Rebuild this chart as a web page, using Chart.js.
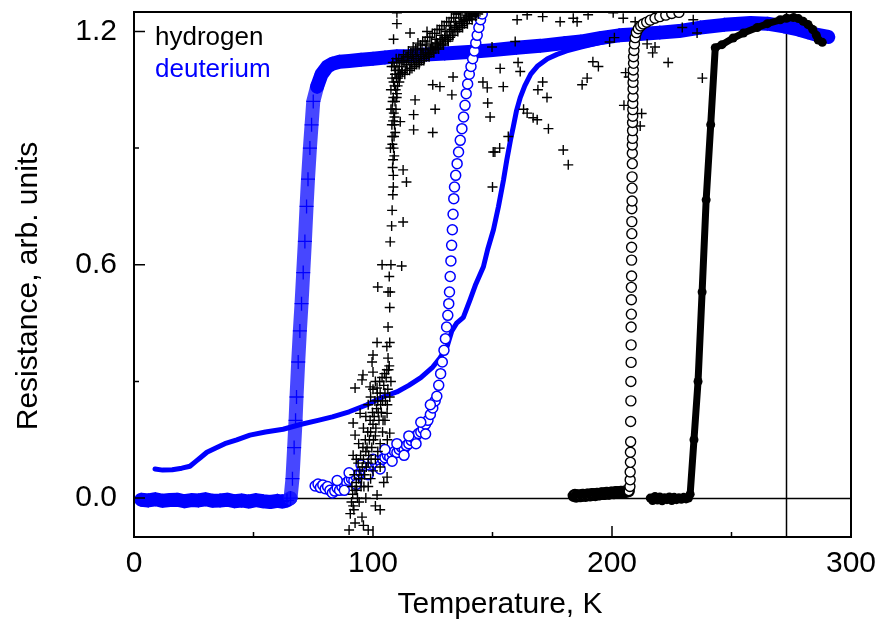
<!DOCTYPE html>
<html>
<head>
<meta charset="utf-8">
<title>Resistance vs temperature</title>
<script src="https://cdn.jsdelivr.net/npm/chart.js@4"></script>
<style>
  html, body { margin: 0; padding: 0; background: #fff; }
  canvas { display: block; }
</style>
</head>
<body>
<canvas id="chart" width="880" height="621"></canvas>
<script>
// axis ranges and ticks
const xRange = [0, 300];
const yRange = [-0.1, 1.25];
const xTicks = [0, 100, 200, 300];
const xMinor = [50, 150, 250];
const yTicks = [0, 0.6, 1.2];
const yMinor = [0.3, 0.9];
const zeroLine = [0];
const markerT = [273];

const legendLabels = ['hydrogen', 'deuterium'];
const legendColors = ['#000000', '#0000ff'];

// deuterium, crosses (thick band), [T, R]
const dCross = [
  [3,-0.004],[6,-0.006],[9,-0.003],[12,-0.007],[15,-0.005],[18,-0.004],[21,-0.008],[24,-0.005],
  [27,-0.006],[30,-0.003],[33,-0.007],[36,-0.006],[39,-0.004],[42,-0.008],[45,-0.006],[48,-0.009],
  [51,-0.005],[54,-0.008],[57,-0.01],[60,-0.007],[62,-0.009],[64,-0.006],[65.5,0.0],[66.3,0.05],
  [67,0.13],[67.6,0.2],[68,0.26],[68.7,0.35],[69.4,0.43],[70.1,0.5],[70.8,0.58],[71.5,0.66],
  [72.2,0.75],[72.8,0.82],[73.6,0.9],[74.3,0.96],[75,1.02],[76.6,1.058],[78.5,1.09],[80.8,1.109],
  [83,1.117],[86,1.122],[90,1.124],[95,1.127],[100,1.13],[105,1.133],[110,1.136],[115,1.137],
  [120,1.14],[130,1.143],[140,1.147],[150,1.152],[160,1.158],[170,1.163],[180,1.17],[187,1.174],
  [195,1.183],[203,1.19],[210,1.193],[220,1.197],[228,1.201],[237,1.21],[247,1.217],[258,1.222],
  [265,1.22],[272,1.213],[278,1.205],[282,1.198],[286,1.191],[290.5,1.186]
];

// deuterium, thin dense line
const dLine = [
  [8.8,0.075],[12,0.072],[16,0.073],[20,0.077],[23.4,0.082],[26,0.095],[28,0.105],[30.5,0.118],
  [34,0.128],[38,0.14],[43,0.15],[48.5,0.162],[55,0.17],[62.4,0.177],[70,0.19],[77,0.2],
  [83,0.209],[90,0.222],[97.5,0.24],[104,0.26],[110,0.273],[115,0.29],[120,0.31],[125,0.337],
  [128,0.36],[131,0.39],[133,0.43],[135,0.45],[137.8,0.465],[140.6,0.51],[143,0.55],[146.2,0.595],
  [148,0.64],[150.4,0.69],[152.5,0.75],[154.6,0.818],[156,0.87],[157.5,0.92],[158.7,0.955],[160,0.995],
  [161.6,1.03],[163.5,1.06],[166,1.09],[169,1.112],[173,1.13],[177,1.141],[181,1.15],[187,1.16],
  [194,1.17],[200,1.178],[208,1.19]
];

// deuterium, open circles
const dCircle = [
  [75.8,0.031],[77,0.036],[78,0.027],[79,0.034],[80,0.024],[81,0.03],[82,0.02],[83,0.013],
  [84,0.018],[85,0.026],[86,0.02],[87,0.03],[88,0.036],[89,0.04],[90,0.046],[91,0.05],
  [92,0.045],[93,0.055],[94,0.062],[95,0.066],[96,0.072],[97,0.068],[98,0.076],[99,0.082],
  [100,0.086],[101,0.09],[102,0.087],[103,0.095],[104,0.1],[105,0.104],[106,0.11],[107,0.106],
  [108,0.115],[109,0.12],[110,0.117],[111,0.125],[112,0.13],[113,0.127],[114,0.135],[115,0.14],
  [116,0.148],[117,0.155],[118,0.16],[119,0.166],[120,0.17],[121,0.178],[122,0.19],[123,0.2],
  [124,0.215],[125,0.232],[126,0.25],[126.7,0.262],[127.5,0.29],[128.3,0.32],[129,0.35],[129.7,0.38],
  [130.3,0.41],[130.8,0.44],[131.3,0.47],[131.7,0.5],[132,0.53],[132.3,0.57],[132.6,0.61],[132.9,0.65],
  [133.2,0.69],[133.5,0.73],[133.8,0.77],[134.1,0.8],[134.6,0.83],[135.2,0.86],[135.8,0.89],[136.5,0.92],
  [137.2,0.95],[137.9,0.98],[138.5,1.01],[139,1.04],[139.6,1.065],[140.3,1.09],[141,1.11],[141.7,1.13],
  [142.4,1.15],[143,1.17],[143.6,1.19],[144.3,1.21],[145,1.23],[145.7,1.245],
  [85,0.045],[90,0.065],[95,0.085],[100,0.1],[105,0.125],[110,0.14],[115,0.16],[120,0.195],[124,0.24],
  [88,0.02],[93,0.035],[98,0.06],[103,0.075],[108,0.095],[113,0.11],[118,0.14],[122,0.165]
];

// hydrogen, crosses (noisy)
const hCross = [
  [90,-0.082],[90.5,-0.04],[91,-0.01],[91.5,0.01],[91.7,-0.02],[92,-0.03],[92.5,0.02],[92.5,-0.064],
  [93,0.04],[93.5,0.0],[94,0.05],[94.5,0.07],[95,0.03],[95.4,-0.049],[95.5,0.08],[96,0.1],
  [96,-0.07],[96.5,0.06],[97,0.12],[97.5,0.13],[98,0.09],[98,-0.082],[98.5,0.15],[99,0.17],
  [99.5,0.13],[100,0.19],[100.5,0.21],[101,0.16],[101,-0.02],[101.5,0.23],[101.7,0.008],[102,0.25],
  [102.5,0.2],[103,0.27],[103,-0.03],[103.5,0.22],[104,0.25],[104.5,0.29],[104.5,0.04],[105,0.27],
  [105.5,0.31],[105.9,0.054],[106,0.24],[106.5,0.33],[107,0.167],[105.9,0.218],[91.7,0.11],[92.5,0.162],
  [91.7,0.193],[94.6,0.218],[98.8,0.286],[101,0.3],[92.5,0.283],[95.4,0.304],[95.8,0.317],[99.6,0.35],
  [100,0.324],[100,0.368],[101.7,0.283],[101.7,0.4],
  [91.2,0.03],[92.2,0.06],[93.2,0.02],[93.8,0.09],[94.2,-0.01],[94.8,0.11],[95.2,0.05],[95.8,0.13],
  [96.2,0.03],[96.8,0.15],[97.2,0.08],[97.8,0.17],[98.2,0.11],[98.8,0.2],[99.2,0.1],[99.8,0.22],
  [100.2,0.15],[100.8,0.25],[101.2,0.18],[101.8,0.27],[102.2,0.22],[102.8,0.3],[103.2,0.24],[103.8,0.31],
  [104.2,0.2],[104.8,0.32],[105.2,0.25],[105.8,0.33],[106.2,0.28],[106.8,0.34],[93,0.1],[94,0.14],
  [96,0.18],[97,0.21],[98,0.24],[99,0.26],[100,0.28],[97,0.0],[98,0.03],[99,0.05],
  [100,0.07],[101,0.1],[102,0.12],[103,0.14],[104,0.17],[103,0.08],[105,0.2],[106,0.15],
  [107,0.26],[107.5,0.3],
  [105.8,0.39],[106.3,0.36],[107,0.4],[106.3,0.44],[107,0.49],[106.3,0.53],[107.2,0.53],[102,0.543],
  [106.8,0.57],[107.5,0.6],[103.8,0.6],[112,0.597],[107.2,0.659],[107.8,0.7],[112.6,0.71],[108,0.74],
  [108.5,0.8],[108.3,0.78],[108.5,0.83],[108.4,0.87],[108.6,0.9],[108,0.93],[108.8,0.93],[109,0.96],
  [108.7,0.99],[109.2,1.02],[109.5,1.05],[109.8,1.08],[110.5,1.1],
  [108.2,0.85],[108.9,0.88],[108.1,0.91],[109.3,0.94],[108.4,0.97],[109.6,1.0],[108.2,1.02],[109.9,1.03],
  [108.6,1.07],[110.3,1.06],[109.2,1.09],[110.8,1.09],[107.9,0.96],[108.9,1.11],[109.7,1.13],[107.5,1.0],
  [107.3,0.9],
  [108,1.0],[108.5,1.03],[109,1.06],[109.5,1.1],[110,1.12],[108,1.08],[107.5,1.05],[109,0.98],
  [110,1.04],[111,1.07],[107.8,1.11],[108.3,1.12],[110,1.22],[110,1.248],[108.6,1.18],
  [111,1.11],[112,1.1],[113,1.12],[114,1.115],[115,1.125],[116,1.12],[117,1.13],[118,1.135],
  [119,1.13],[120,1.14],[121,1.145],[122,1.15],[123,1.145],[124,1.155],[125,1.16],[126,1.165],
  [127,1.17],[128,1.175],[129,1.18],[130,1.185],[131,1.19],[132,1.2],[133,1.205],[134,1.21],
  [135,1.215],[136,1.22],[137,1.225],[138,1.23],[139,1.235],[140,1.24],[141,1.245],[142,1.25],
  [110.5,1.08],[111.5,1.09],[112.5,1.125],[113.5,1.1],[114.5,1.135],[115.5,1.105],[116.5,1.14],[117.5,1.115],
  [118.5,1.15],[119.5,1.12],[120.5,1.155],[121.5,1.13],[122.5,1.165],[123.5,1.135],[124.5,1.17],[125.5,1.145],
  [126.5,1.18],[127.5,1.155],[128.5,1.19],[129.5,1.165],[130.5,1.2],[131.5,1.175],[132.5,1.215],[133.5,1.19],
  [134.5,1.225],[135.5,1.2],[136.5,1.235],[137.5,1.21],[138.5,1.24],[139.5,1.22],[140.5,1.245],[141.5,1.23],
  [143,1.24],[144,1.245],
  [110.8,1.13],[111.8,1.125],[112.8,1.14],[113.8,1.135],[114.8,1.15],[115.8,1.145],[116.8,1.16],[117.8,1.155],
  [118.8,1.17],[119.8,1.165],[120.8,1.175],[121.8,1.175],[122.8,1.185],[123.8,1.185],[124.8,1.195],[125.8,1.195],
  [126.8,1.205],[127.8,1.205],[128.8,1.215],[129.8,1.215],[130.8,1.225],[131.8,1.225],[132.8,1.235],[133.8,1.235],
  [134.8,1.245],[135.8,1.245],
  [111.3,1.085],[112.3,1.095],[113.3,1.09],[114.3,1.1],[115.3,1.1],[116.3,1.105],[117.3,1.11],[118.3,1.115],
  [119.3,1.115],[120.3,1.125],[121.3,1.125],[122.3,1.135],[123.3,1.14],[124.3,1.145],[125.3,1.15],[126.3,1.155],
  [127.3,1.16],[128.3,1.165],[129.3,1.17],[130.3,1.175],[131.3,1.18],[132.3,1.185],[133.3,1.19],[134.3,1.2],
  [135.3,1.205],[136.3,1.21],[137.3,1.215],[138.3,1.22],[139.3,1.228],[140.3,1.232],[141.3,1.238],[142.3,1.242],
  [143.3,1.248],
  [111.4,0.968],[112.6,0.844],[114,0.813],[117,0.947],[117,0.986],[117.6,1.024],[125,0.94],[126,1.0],
  [125,1.063],[128,1.058],[133,1.037],[133.5,1.083],[115.5,1.196],[122.6,1.2],
  [146,1.07],[147.8,1.055],[148,1.016],[149,0.98],[150.3,0.89],[151,0.89],[153,0.9],[156.6,0.93],
  [149.8,1.16],[153.2,1.105],[154.5,1.058],[159.5,1.174],[160.3,1.23],[160.7,1.12],[161.6,1.097],[163,1.0],
  [164.5,0.99],[164.5,1.243],[167,0.978],[168.7,0.973],[169,1.05],[171,1.07],[171,1.238],[172.8,1.03],
  [173.4,0.95],[178.3,1.225],[179.6,0.895],[181.7,0.857],[183.8,1.234],[185.4,1.225],[187.5,1.063],[189.6,1.08],
  [190,1.243],[192,1.122],[194.3,1.11],[199,1.173],[200.5,1.248],[201,1.184],[204.7,1.234],[205,1.01],
  [205.7,1.094],[207,1.083],[209.7,1.225],[211.8,0.957],[212.4,0.989],[214.7,1.168],[217,1.145],[218,1.16],
  [223.5,1.12],[229.4,1.21],[234,1.23],[235.6,1.196],[237.8,1.08],[150,0.8]
];

// hydrogen, open circles
const hCircle = [
  [184,0.006],[184.5,0.008],[185,0.004],[185.5,0.006],[186,0.007],[186.5,0.005],[187,0.005],[187.5,0.008],
  [188,0.008],[188.5,0.007],[189,0.006],[189.5,0.009],[190,0.009],[190.5,0.008],[191,0.007],[191.5,0.01],
  [192,0.01],[192.5,0.009],[193,0.008],[193.5,0.011],[194,0.011],[194.5,0.01],[195,0.01],[195.5,0.012],
  [196,0.012],[196.5,0.011],[197,0.011],[197.5,0.013],[198,0.013],[198.5,0.012],[199,0.012],[199.5,0.014],
  [200,0.014],[200.5,0.013],[201,0.013],[201.5,0.015],[202,0.015],[202.5,0.014],[203,0.014],[203.5,0.016],
  [204,0.016],[204.5,0.015],[205,0.015],[205.5,0.017],[206,0.017],[206.5,0.018],[207,0.018],
  [207.5,0.03],[207.6,0.047],[207.6,0.067],[207.7,0.092],[207.7,0.118],[207.8,0.145],[207.8,0.197],[207.9,0.25],
  [207.9,0.3],[208,0.349],[208,0.394],[208,0.44],[208.1,0.473],[208.1,0.51],[208.1,0.542],[208.2,0.571],
  [208.2,0.612],[208.2,0.645],[208.3,0.68],[208.3,0.711],[208.3,0.744],[208.4,0.764],[208.4,0.797],[208.4,0.826],
  [208.5,0.86],[208.5,0.887],[208.5,0.908],[208.6,0.925],[208.6,0.945],[208.6,0.966],[208.7,0.982],[208.7,0.999],
  [208.7,1.015],[208.8,1.032],[208.8,1.052],[208.8,1.069],[208.9,1.085],[208.9,1.101],[209,1.118],[209,1.135],
  [209.2,1.151],[209.4,1.168],[209.7,1.184],[210.2,1.197],[211,1.207],[212,1.214],[213,1.219],[214.5,1.224],
  [216,1.229],[218,1.234],[220,1.238],[222.5,1.242],[225,1.246],[228,1.249]
];

// hydrogen, dense solid trace
const hSolid = [
  [216,0.0],[217,-0.006],[218,0.004],[219,-0.005],[220,0.003],[221,-0.007],[222,0.001],[223,-0.004],
  [224,0.003],[225,-0.006],[226,0.002],[227,-0.004],[228,0.001],[229,-0.003],[230,0.002],[231,-0.002],
  [232,0.0],[232.7,0.01],[234.3,0.15],[236,0.3],[237.7,0.53],[239.4,0.767],[241.3,0.96],[243.2,1.158],
  [246,1.166],[250.7,1.183],[255,1.196],[260.8,1.21],[265,1.22],[270.4,1.23],[273,1.234],[276,1.236],
  [278,1.233],[280,1.226],[282,1.218],[284,1.205],[285.5,1.19],[286.3,1.178],[288,1.172]
];

const FONT = '"Liberation Sans", Arial, Helvetica, sans-serif';
const BLUE = '#0000ff';
const toXY = arr => arr.map(p => ({ x: p[0], y: p[1] }));

// frame, inward ticks, reference lines, text legend and axis titles
const decor = {
  id: 'decor',
  beforeDatasetsDraw(chart) {
    const { ctx, chartArea: a, scales: { x, y } } = chart;
    ctx.save();
    ctx.strokeStyle = '#000';
    ctx.lineWidth = 1.5;
    ctx.beginPath();
    zeroLine.forEach(v => {
      const py = Math.round(y.getPixelForValue(v)) + 0.5;
      ctx.moveTo(a.left, py); ctx.lineTo(a.right, py);
    });
    markerT.forEach(v => {
      const px = Math.round(x.getPixelForValue(v)) + 0.5;
      ctx.moveTo(px, a.top); ctx.lineTo(px, a.bottom);
    });
    ctx.stroke();
    ctx.restore();
  },
  afterDraw(chart) {
    const { ctx, chartArea: a, scales: { x, y } } = chart;
    ctx.save();
    ctx.strokeStyle = '#000';
    ctx.lineWidth = 2;
    ctx.strokeRect(a.left, a.top, a.right - a.left, a.bottom - a.top);

    ctx.lineWidth = 1.5;
    ctx.beginPath();
    xTicks.forEach(v => { const px = x.getPixelForValue(v); ctx.moveTo(px, a.bottom); ctx.lineTo(px, a.bottom - 11); });
    xMinor.forEach(v => { const px = x.getPixelForValue(v); ctx.moveTo(px, a.bottom); ctx.lineTo(px, a.bottom - 5); });
    yTicks.forEach(v => { const py = y.getPixelForValue(v); ctx.moveTo(a.left, py); ctx.lineTo(a.left + 11, py); });
    yMinor.forEach(v => { const py = y.getPixelForValue(v); ctx.moveTo(a.left, py); ctx.lineTo(a.left + 5, py); });
    ctx.stroke();

    // text legend in the upper left corner
    ctx.font = '26px ' + FONT;
    ctx.textAlign = 'left';
    ctx.textBaseline = 'alphabetic';
    legendLabels.forEach((t, i) => {
      ctx.fillStyle = legendColors[i];
      ctx.fillText(t, a.left + 21, a.top + 33 + i * 32);
    });

    // axis titles
    ctx.fillStyle = '#000';
    ctx.font = '30px ' + FONT;
    ctx.textAlign = 'center';
    ctx.fillText('Temperature, K', 500, 613);
    ctx.translate(37, 286);
    ctx.rotate(-Math.PI / 2);
    ctx.fillText('Resistance, arb. units', 0, 0);
    ctx.restore();
  }
};

// steep parts of the cross band look lighter in the original (stacked thin crosses)
const steepColor = c => {
  const dx = Math.abs(c.p1.x - c.p0.x), dy = Math.abs(c.p1.y - c.p0.y);
  return dy > 3 * dx ? 'rgba(30,30,255,0.82)' : BLUE;
};

new Chart(document.getElementById('chart'), {
  type: 'scatter',
  data: {
    datasets: [
      {
        label: 'deuterium crosses',
        data: toXY(dCross),
        order: 6,
        showLine: true,
        tension: 0,
        borderColor: BLUE,
        borderWidth: 14,
        borderCapStyle: 'round',
        borderJoinStyle: 'round',
        segment: { borderColor: steepColor },
        pointStyle: 'cross',
        pointRadius: 7,
        pointBorderWidth: 1.3,
        pointBorderColor: BLUE,
        pointBackgroundColor: BLUE
      },
      {
        label: 'deuterium line',
        data: toXY(dLine),
        order: 5,
        showLine: true,
        tension: 0,
        borderColor: BLUE,
        borderWidth: 5,
        borderCapStyle: 'round',
        borderJoinStyle: 'round',
        pointRadius: 0
      },
      {
        label: 'deuterium circles',
        data: toXY(dCircle),
        order: 4,
        pointStyle: 'circle',
        pointRadius: 5,
        pointBorderWidth: 1.5,
        pointBorderColor: BLUE,
        pointBackgroundColor: '#ffffff'
      },
      {
        label: 'hydrogen crosses',
        data: toXY(hCross),
        order: 3,
        pointStyle: 'cross',
        pointRadius: 5,
        pointBorderWidth: 1.4,
        pointBorderColor: '#000',
        pointBackgroundColor: '#000'
      },
      {
        label: 'hydrogen circles',
        data: toXY(hCircle),
        order: 2,
        pointStyle: 'circle',
        pointRadius: 5,
        // the flat run near zero is so dense it prints almost solid
        pointBorderWidth: c => (c.raw && c.raw.y < 0.025 ? 2.4 : 1.4),
        pointBorderColor: '#000',
        pointBackgroundColor: '#ffffff'
      },
      {
        label: 'hydrogen solid',
        data: toXY(hSolid),
        order: 1,
        showLine: true,
        tension: 0,
        borderColor: '#000',
        borderWidth: 7,
        borderCapStyle: 'round',
        borderJoinStyle: 'round',
        pointStyle: 'circle',
        pointRadius: 4.5,
        pointBorderWidth: 0,
        pointBackgroundColor: '#000'
      }
    ]
  },
  options: {
    responsive: false,
    animation: false,
    devicePixelRatio: 1,
    layout: { padding: { top: 12, right: 29, left: 0, bottom: 0 } },
    plugins: { legend: { display: false }, tooltip: { enabled: false } },
    scales: {
      x: {
        type: 'linear',
        min: xRange[0],
        max: xRange[1],
        grid: { display: false, drawTicks: false },
        border: { display: false },
        afterBuildTicks: s => { s.ticks = xTicks.map(v => ({ value: v })); },
        afterFit: s => { s.height = 84; s.paddingLeft = 0; s.paddingRight = 0; },
        ticks: { font: { family: FONT, size: 30 }, color: '#000', padding: 9, maxRotation: 0 }
      },
      y: {
        type: 'linear',
        min: yRange[0],
        max: yRange[1],
        grid: { display: false, drawTicks: false },
        border: { display: false },
        afterBuildTicks: s => { s.ticks = yTicks.map(v => ({ value: v })); },
        afterFit: s => { s.width = 134; s.paddingTop = 0; s.paddingBottom = 0; },
        ticks: {
          font: { family: FONT, size: 30 },
          color: '#000',
          padding: 17,
          callback: v => v.toFixed(1)
        }
      }
    }
  },
  plugins: [decor]
});
</script>
</body>
</html>
